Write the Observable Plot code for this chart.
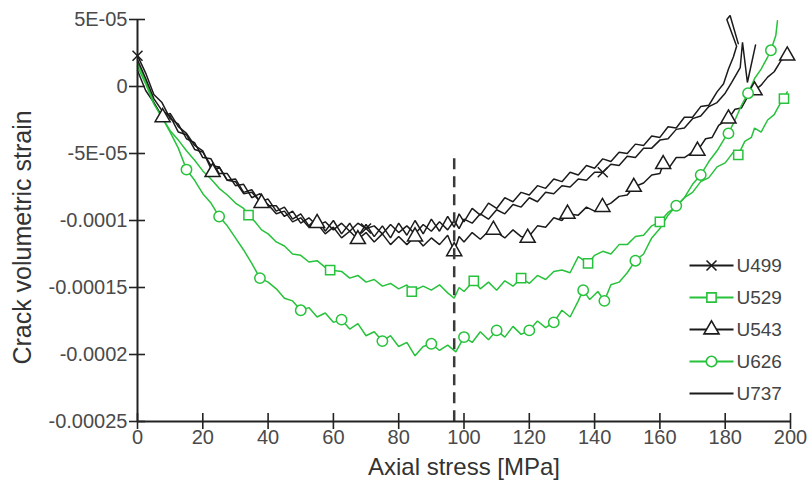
<!DOCTYPE html>
<html><head><meta charset="utf-8">
<script src="https://cdn.jsdelivr.net/npm/d3@7"></script>
<script src="https://cdn.jsdelivr.net/npm/@observablehq/plot@0.6"></script>
<style>
html,body{margin:0;padding:0;background:#fff;}
#chart{width:808px;height:484px;}
</style></head><body><div id="chart"></div>
<script>
// Values: [axial stress (MPa), crack volumetric strain in units of 1E-05]
const seriesNames = ["U499","U529","U543","U626","U737"];

const u499 = [[0,2.3],[2.5,1.0],[5,-0.6],[7.5,-1.2],[10,-2.4],[12.5,-2.8],[15,-3.9],[17.5,-4.2],[20,-5.3],[22.5,-5.4],[25,-6.5],[27.5,-6.5],[30,-7.4],[32.5,-7.3],[35,-8.3],[37.5,-8.0],[40,-8.9],[42.5,-8.9],[45,-9.7],[47.5,-9.3],[50,-10.2],[52.5,-9.8],[55,-10.4],[57.5,-10.1],[60,-10.7],[62.5,-10.2],[65,-10.8],[67.5,-10.2],[70,-10.6],[72.5,-10.4],[75,-11.0],[77.5,-10.3],[80,-10.9],[82.5,-10.4],[85,-11.0],[87.5,-10.3],[90,-10.8],[92.5,-10.1],[95,-10.7],[97,-10.0],[98.5,-10.6],[100,-9.9],[102.5,-10.2],[105,-9.5],[107.5,-9.9],[110,-9.2],[112.5,-9.5],[115,-8.8],[117.5,-9.0],[120,-8.3],[122.5,-8.6],[125,-7.9],[127.5,-8.0],[130,-7.4],[132.5,-7.5],[135,-6.9],[137.5,-7.0],[140,-6.4],[142.5,-6.4],[145,-5.8],[147.5,-5.9],[150,-5.2],[152.5,-5.3],[155,-4.6],[157.5,-4.6],[160,-4.0],[162.5,-3.9],[165,-3.2],[167.5,-3.1],[170,-2.4],[172.5,-2.2],[175,-1.5],[177.5,-1.2],[180,-0.5],[182,0.3],[184.6,1.4],[185.3,3.3],[186.8,0.3],[189.3,3.1]];

const u529 = [[0,1.8],[2.5,0.4],[5,-1.2],[7.5,-2.3],[10,-3.3],[12.5,-4.0],[15,-4.8],[17.5,-5.5],[20,-6.3],[22.5,-6.9],[25,-7.6],[27.5,-8.1],[30,-8.7],[32.5,-9.1],[34,-9.6],[36,-10.1],[38,-10.7],[40,-11.0],[42.5,-11.6],[45,-11.9],[47.5,-12.5],[50,-12.6],[52.5,-13.1],[55,-13.0],[57.5,-13.5],[59,-13.7],[62.5,-13.8],[65,-14.3],[67.5,-14.1],[70,-14.6],[72.5,-14.4],[75,-14.9],[77.5,-14.7],[80,-15.1],[82.5,-14.8],[84,-15.3],[87.5,-14.9],[90,-15.2],[92.5,-14.8],[95,-15.4],[97,-15.8],[98.5,-15.0],[100,-15.3],[103,-14.5],[105,-15.1],[107.5,-14.6],[110,-15.2],[112.5,-14.5],[115,-14.9],[117.5,-14.3],[120,-14.7],[122.5,-14.1],[125,-14.4],[127.5,-13.8],[130,-13.7],[132.5,-13.9],[135,-12.7],[138,-13.2],[140,-12.6],[142.5,-12.3],[145,-12.5],[147.5,-11.8],[150,-11.8],[152.5,-11.2],[155,-11.1],[157.5,-10.4],[160,-10.1],[162.5,-9.4],[165,-9.0],[167.5,-8.3],[170,-7.9],[172.5,-7.1],[175,-6.8],[177.5,-6.0],[180,-5.7],[182.5,-4.9],[184,-5.1],[186,-4.1],[188,-3.8],[189,-3.1],[191,-3.4],[193,-2.5],[195,-2.1],[197,-1.2],[198,-0.9],[199,-0.4]];

const u543 = [[0,1.2],[2.5,-0.3],[5,-1.2],[7.7,-2.3],[10,-2.0],[12.5,-3.0],[15,-3.5],[17.5,-4.4],[20,-4.8],[23,-6.4],[25,-6.0],[27.5,-7.0],[30,-7.1],[32.5,-8.0],[35,-7.9],[38,-8.7],[40,-8.8],[42.5,-9.5],[45,-9.3],[47.5,-10.1],[50,-9.8],[52.5,-10.5],[55,-10.2],[57.5,-11.0],[60,-10.5],[62.5,-11.3],[65,-10.8],[67.5,-11.4],[70,-10.9],[72.5,-11.6],[75,-11.0],[77.5,-11.8],[80,-11.2],[82.5,-11.8],[85,-11.2],[87.5,-11.9],[90,-11.3],[92.5,-11.8],[95,-11.1],[97,-12.3],[98.5,-11.2],[100,-11.6],[102.5,-10.9],[105,-11.4],[107.5,-10.8],[109,-10.7],[112.5,-11.3],[115,-10.7],[117.5,-11.2],[119.5,-11.3],[122.5,-10.4],[125,-10.5],[127.5,-9.8],[130,-10.0],[131.7,-9.5],[135,-9.6],[137.5,-9.0],[140,-9.3],[142.4,-9.0],[145,-8.7],[147.5,-8.2],[150,-8.1],[152,-7.5],[155,-7.2],[157.5,-6.6],[160,-6.5],[161,-5.8],[163,-6.0],[165,-5.3],[167.5,-5.3],[170,-4.9],[171.5,-4.8],[174,-3.9],[176,-3.8],[178,-2.9],[181,-2.4],[183,-1.7],[185,-1.6],[187,-0.7],[189,-0.3],[191,0.1],[193,0.7],[195,1.1],[197,1.9],[199,2.3]];

const u626 = [[0,1.5],[2.5,0.2],[5,-1.3],[7.5,-2.3],[10,-3.4],[12.5,-4.6],[15,-6.2],[17.5,-7.0],[20,-8.0],[22.5,-8.7],[25,-9.7],[27.5,-10.4],[30,-11.3],[32.5,-12.2],[35,-13.2],[37.5,-14.3],[40,-14.6],[42.5,-15.1],[45,-15.8],[47.5,-16.0],[50,-16.7],[52.5,-16.5],[55,-17.2],[57.5,-16.9],[60,-17.6],[62.5,-17.4],[65,-18.1],[67.5,-17.7],[70,-18.6],[72.5,-18.3],[75,-19.0],[77.5,-18.6],[80,-19.4],[82.5,-19.1],[85,-20.1],[87.5,-19.4],[90,-19.2],[92.5,-19.7],[95,-19.3],[97.5,-19.8],[100,-18.7],[102.5,-19.1],[105,-18.3],[107.5,-18.9],[110,-18.2],[112.5,-18.7],[115,-17.9],[117.5,-18.5],[120,-18.2],[122.5,-17.5],[125,-18.0],[127.5,-17.6],[130,-16.7],[132.5,-17.2],[135,-16.0],[136.5,-15.2],[138.5,-15.9],[141,-15.3],[143,-16.0],[145,-14.8],[147.5,-14.6],[150,-13.9],[152.5,-13.0],[155,-12.5],[157.5,-11.3],[160,-10.6],[162.5,-9.6],[165,-8.9],[167.5,-8.3],[170,-7.3],[172.5,-6.6],[175,-5.6],[177.5,-4.8],[180,-3.8],[181,-3.5],[183,-2.5],[185,-1.4],[187,-0.5],[189,0.6],[191,1.3],[193,2.2],[194,2.7],[195.5,3.8],[196,4.9]];

const u737 = [[0,2.0],[2.5,0.6],[5,-0.9],[7.5,-1.8],[10,-2.2],[12.5,-3.4],[15,-3.6],[17.5,-4.7],[20,-4.9],[22.5,-5.9],[25,-6.0],[27.5,-7.0],[30,-6.9],[32.5,-7.9],[35,-7.7],[37.5,-8.6],[40,-8.4],[42.5,-9.3],[45,-9.0],[47.5,-9.9],[50,-9.5],[52.5,-10.4],[55,-9.8],[57.5,-10.8],[60,-10.0],[62.5,-11.0],[65,-10.2],[67.5,-11.2],[70,-10.3],[72.5,-11.2],[75,-10.4],[77.5,-11.3],[80,-10.2],[82.5,-11.1],[85,-10.0],[87.5,-11.0],[90,-9.9],[92.5,-10.8],[95,-9.7],[97,-10.5],[98.5,-9.5],[100,-10.1],[102.5,-9.1],[105,-9.6],[107.5,-8.7],[110,-9.1],[112.5,-8.3],[115,-8.6],[117.5,-7.9],[120,-8.1],[122.5,-7.4],[125,-7.6],[127.5,-6.9],[130,-7.1],[132.5,-6.4],[135,-6.6],[137.5,-5.9],[140,-6.1],[142.5,-5.4],[145,-5.6],[147.5,-4.9],[150,-5.0],[152.5,-4.3],[155,-4.4],[157.5,-3.7],[160,-3.8],[162.5,-3.0],[165,-3.1],[167.5,-2.3],[170,-2.3],[172.5,-1.5],[175,-1.4],[177.5,-0.4],[179.5,0.2],[181,1.3],[182.5,2.2],[183.5,3.0],[180.5,5.0],[181.5,5.3],[184,3.2]];

// stresses at which the original draws a marker
const u499Markers = [0, 70, 142.5];
const u529Markers = [34, 59, 84, 103, 117.5, 138, 160, 184, 198];
const u543Markers = [7.7, 23, 38, 55, 67.5, 85, 97, 109, 119.5, 131.7, 142.4, 152, 161, 171.5, 181, 189, 199];
const u626Markers = [15, 25, 37.5, 50, 62.5, 75, 90, 100, 110, 120, 127.5, 136.5, 143, 152.5, 165, 172.5, 181, 187, 194];
const u737Markers = [];

const xTicks = [0,20,40,60,80,100,120,140,160,180,200];
const yTicksE5 = [5,0,-5,-10,-15,-20,-25];
const yTickLabels = ["5E-05","0","-5E-05","-0.0001","-0.00015","-0.0002","-0.00025"];
const xTitle = "Axial stress [MPa]";
const yTitle = "Crack volumetric strain";
const dashedStress = [97];
const dashedTopE5 = -5.4;

// ---- build
const E = 1e-5;
const black = "#1b1b1b", green = "#27c23b";
const config = {
  U499: {data: u499, markers: u499Markers, color: black, symbol: "times", r: 4.6},
  U529: {data: u529, markers: u529Markers, color: green, symbol: "square", r: 5.2},
  U543: {data: u543, markers: u543Markers, color: black, symbol: "triangle", r: 5.6},
  U626: {data: u626, markers: u626Markers, color: green, symbol: "circle", r: 5.2},
  U737: {data: u737, markers: u737Markers, color: black, symbol: null, r: 0}
};
const rows = name => config[name].data.map(([s, v]) => ({series: name, stress: s, strain: v * E}));
const labelMap = new Map(yTicksE5.map((v, i) => [v, yTickLabels[i]]));
const yTicks = yTicksE5.map(v => v * E);

const marks = [];
for (const name of seriesNames) {
  const c = config[name];
  marks.push(Plot.line(rows(name), {x: "stress", y: "strain", stroke: c.color, strokeWidth: 1.5, strokeLinejoin: "miter"}));
}
for (const name of seriesNames) {
  const c = config[name];
  if (!c.symbol) continue;
  const r = rows(name).filter(d => c.markers.includes(d.stress));
  marks.push(Plot.dot(r, {x: "stress", y: "strain", symbol: c.symbol, r: c.r, stroke: c.color, strokeWidth: 1.5, fill: c.symbol === "times" ? "none" : "white"}));
}
// dashed vertical line
marks.push(Plot.ruleX(dashedStress, {y1: dashedTopE5 * E, y2: -25 * E, stroke: "#3a3a3a", strokeWidth: 2.5, strokeDasharray: "11,7"}));
// axis lines
marks.push(Plot.ruleX([0], {stroke: "#222", strokeWidth: 2}));
marks.push(Plot.ruleY([-25 * E], {stroke: "#222", strokeWidth: 2}));
// ticks crossing the axes
marks.push(Plot.axisY({ticks: yTicks, tickSize: 16, dx: 8, tickFormat: () => "", label: null, stroke: "#222", strokeWidth: 1.6}));
marks.push(Plot.axisX({ticks: xTicks, tickSize: 16, dy: -8, tickFormat: () => "", label: null, stroke: "#222", strokeWidth: 1.6}));
// tick labels
marks.push(Plot.axisY({ticks: yTicks, tickSize: 0, tickPadding: 10, tickFormat: d => labelMap.get(Math.round(d / E)), label: null, fontSize: 20, color: "#4a4a4a"}));
marks.push(Plot.axisX({ticks: xTicks, tickSize: 0, tickPadding: 8, label: null, fontSize: 20, color: "#4a4a4a"}));
// axis titles
marks.push(Plot.text([xTitle], {frameAnchor: "bottom", dy: 46, lineAnchor: "middle", textAnchor: "middle", text: d => d, fontSize: 24, fill: "#333"}));
marks.push(Plot.text([yTitle], {frameAnchor: "left", dx: -115, dy: 17, rotate: -90, textAnchor: "middle", lineAnchor: "middle", text: d => d, fontSize: 25, fill: "#333"}));
// legend
const lineSym = {draw(ctx) { ctx.moveTo(-22, 0); ctx.lineTo(22, 0); }};
seriesNames.forEach((name, i) => {
  const c = config[name];
  const dy = 246 + i * 32;
  marks.push(Plot.dot([name], {frameAnchor: "top-left", dx: 574, dy, r: 1, symbol: lineSym, stroke: c.color, strokeWidth: 2.2}));
  if (c.symbol) marks.push(Plot.dot([name], {frameAnchor: "top-left", dx: 574, dy, r: c.r, symbol: c.symbol, stroke: c.color, strokeWidth: 1.6, fill: c.symbol === "times" ? "none" : "white"}));
  marks.push(Plot.text([name], {frameAnchor: "top-left", dx: 599, dy, text: d => d, textAnchor: "start", lineAnchor: "middle", fontSize: 19, fill: "#444"}));
});

const chart = Plot.plot({
  width: 808, height: 484,
  marginLeft: 137, marginRight: 18, marginTop: 19, marginBottom: 63,
  x: {domain: [0, 200]},
  y: {domain: [-25 * E, 5 * E]},
  style: {fontFamily: "'Liberation Sans', Arial, sans-serif", background: "#fff", color: "#222", overflow: "visible"},
  marks
});
document.getElementById("chart").appendChild(chart);
</script>
</body></html>
